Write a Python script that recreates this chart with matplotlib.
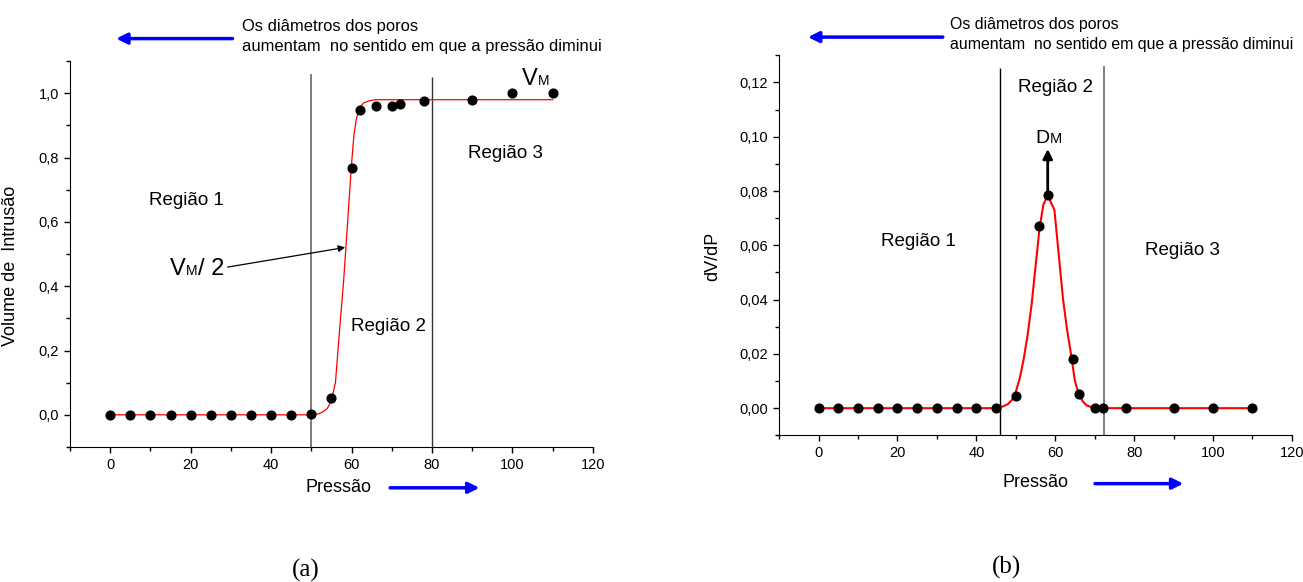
import matplotlib
matplotlib.use("Agg")
import matplotlib.pyplot as plt
from matplotlib.ticker import MultipleLocator, FuncFormatter

plt.rcParams["font.family"] = ["Liberation Sans", "DejaVu Sans"]

# (a) intrusion volume
press_a = [0, 5, 10, 15, 20, 25, 30, 35, 40, 45, 50, 55, 60, 62, 66, 70, 72, 78, 90, 100, 110]
vol_a = [0, 0, 0, 0, 0, 0, 0, 0, 0, 0, 0.003, 0.053, 0.768, 0.949, 0.961, 0.961, 0.967,
         0.975, 0.980, 1.0, 1.0]
fit_x_a = [0, 50, 51, 52, 53, 54, 55, 56, 57, 58, 58.6, 59.3, 60, 60.6, 61.2, 62, 63, 64.5, 66, 110]
fit_y_a = [0, 0, 0.001, 0.004, 0.01, 0.02, 0.045, 0.10, 0.26, 0.41, 0.52, 0.65, 0.78, 0.87,
           0.92, 0.955, 0.97, 0.977, 0.98, 0.98]

# (b) derivative dV/dP
press_b = [0, 5, 10, 15, 20, 25, 30, 35, 40, 45, 50, 55.9, 58.1, 64.5, 66.1, 70, 72, 78, 90, 100, 110]
dvdp_b = [0, 0, 0, 0, 0, 0, 0, 0, 0, 0, 0.0046, 0.067, 0.0784, 0.018, 0.0054, 0, 0, 0, 0, 0, 0]
fit_x_b = [0, 45, 46, 47, 48, 49, 50, 51, 52, 53, 54, 55, 56, 57, 58.1, 59.8, 61, 62, 63, 64,
           65, 66, 67, 68, 70, 110]
fit_y_b = [0, 0, 0.0003, 0.0008, 0.0015, 0.003, 0.006, 0.011, 0.018, 0.027, 0.038, 0.052, 0.066,
           0.075, 0.0784, 0.073, 0.055, 0.040, 0.029, 0.020, 0.010, 0.005, 0.0025, 0.001, 0, 0]

TOP_TXT1 = "Os diâmetros dos poros"
TOP_TXT2 = "aumentam  no sentido em que a pressão diminui"

fig = plt.figure(figsize=(13.03, 5.82), dpi=100)
ax_a = fig.add_axes([0.0537, 0.232, 0.4013, 0.663])
ax_b = fig.add_axes([0.598, 0.252, 0.3934, 0.653])


def style_axes(ax, xlim, ylim, ymaj, ymin, fmt):
    ax.set_xlim(*xlim)
    ax.set_ylim(*ylim)
    for s in ("top", "right"):
        ax.spines[s].set_visible(False)
    ax.xaxis.set_major_locator(MultipleLocator(20))
    ax.xaxis.set_minor_locator(MultipleLocator(10))
    ax.yaxis.set_major_locator(MultipleLocator(ymaj))
    ax.yaxis.set_minor_locator(MultipleLocator(ymin))
    ax.yaxis.set_major_formatter(FuncFormatter(lambda v, _: fmt.format(v).replace(".", ",")))
    ax.tick_params(which="major", direction="out", length=4.5, width=1, labelsize=10.5)
    ax.tick_params(which="minor", direction="out", length=3, width=1)


# ---- panel (a)
ax = ax_a
style_axes(ax, (-10, 120), (-0.1, 1.1), 0.2, 0.1, "{:.1f}")
ax.vlines(50, -0.1, 1.059, color="#666666", lw=1.2)
ax.vlines(80, -0.1, 1.05, color="#333333", lw=1.0)
ax.plot(fit_x_a, fit_y_a, color="red", lw=0.9, zorder=2)
ax.plot(press_a, vol_a, "o", color="black", ms=6.3, zorder=3)

ax.text(18.9, 0.668, "Região 1", fontsize=13.5, ha="center", va="center")
ax.text(69.2, 0.276, "Região 2", fontsize=13.5, ha="center", va="center")
ax.text(98.2, 0.814, "Região 3", fontsize=13.5, ha="center", va="center")
ax.text(106.3, 1.025, "V", fontsize=17, ha="right", va="baseline")
ax.text(106.3, 1.025, "M", fontsize=10, ha="left", va="baseline")
ax.text(18.8, 0.436, "V", fontsize=17, ha="right", va="baseline")
ax.text(18.8, 0.436, "M", fontsize=10, ha="left", va="baseline")
ax.text(21.8, 0.436, "/ 2", fontsize=17, ha="left", va="baseline")
ax.annotate("", xy=(59.1, 0.522), xytext=(28.5, 0.458),
            arrowprops=dict(arrowstyle="-|>", color="black", lw=0.9, mutation_scale=10))

ax.text(56.7, -0.227, "Pressão", fontsize=13, ha="center", va="center")
ax.annotate("", xy=(92.5, -0.227), xytext=(68.9, -0.227), annotation_clip=False,
            arrowprops=dict(arrowstyle="-|>", color="blue", lw=2.5, mutation_scale=16))
ax.annotate("", xy=(0.8, 1.170), xytext=(31.1, 1.170), annotation_clip=False,
            arrowprops=dict(arrowstyle="-|>", color="blue", lw=2.5, mutation_scale=16))
ax.set_ylabel("Volume de  Intrusão", fontsize=13)
ax.yaxis.set_label_coords(-0.098, 0.47)
fig.text(242.5 / 1303, 1 - 26 / 582, TOP_TXT1, fontsize=11.9, va="center")
fig.text(242.5 / 1303, 1 - 46 / 582, TOP_TXT2, fontsize=11.9, va="center")

# ---- panel (b)
ax = ax_b
style_axes(ax, (-10, 120), (-0.01, 0.13), 0.02, 0.01, "{:.2f}")
ax.vlines(46.0, -0.01, 0.1253, color="black", lw=1.0)
ax.vlines(72.4, -0.01, 0.126, color="#666666", lw=1.2)
ax.plot(fit_x_b, fit_y_b, color="red", lw=1.5, zorder=2)
ax.plot(press_b, dvdp_b, "o", color="black", ms=6.3, zorder=3)

ax.text(25.3, 0.0613, "Região 1", fontsize=13.5, ha="center", va="center")
ax.text(60.1, 0.118, "Região 2", fontsize=13.5, ha="center", va="center")
ax.text(92.3, 0.0582, "Região 3", fontsize=13.5, ha="center", va="center")
ax.text(58.6, 0.0977, "D", fontsize=14, ha="right", va="baseline")
ax.text(58.6, 0.0977, "M", fontsize=10.5, ha="left", va="baseline")
ax.annotate("", xy=(58.1, 0.0965), xytext=(58.1, 0.0784),
            arrowprops=dict(arrowstyle="-|>", color="black", lw=2, mutation_scale=14))

ax.text(55.1, -0.0273, "Pressão", fontsize=13, ha="center", va="center")
ax.annotate("", xy=(93.2, -0.0278), xytext=(69.4, -0.0278), annotation_clip=False,
            arrowprops=dict(arrowstyle="-|>", color="blue", lw=2.5, mutation_scale=16))
ax.annotate("", xy=(-3.4, 0.1367), xytext=(32.2, 0.1367), annotation_clip=False,
            arrowprops=dict(arrowstyle="-|>", color="blue", lw=2.5, mutation_scale=16))
ax.set_ylabel("dV/dP", fontsize=13)
ax.yaxis.set_label_coords(-0.113, 0.47)
fig.text(950 / 1303, 1 - 25 / 582, TOP_TXT1, fontsize=11.4, va="center")
fig.text(950 / 1303, 1 - 45 / 582, TOP_TXT2, fontsize=11.4, va="center")

# captions
fig.text(306 / 1303, 1 - 570 / 582, "(a)", fontsize=18, ha="center", va="center",
         family="Liberation Serif")
fig.text(1006.5 / 1303, 1 - 567 / 582, "(b)", fontsize=18, ha="center", va="center",
         family="Liberation Serif")

fig.savefig("out.png", dpi=100)
